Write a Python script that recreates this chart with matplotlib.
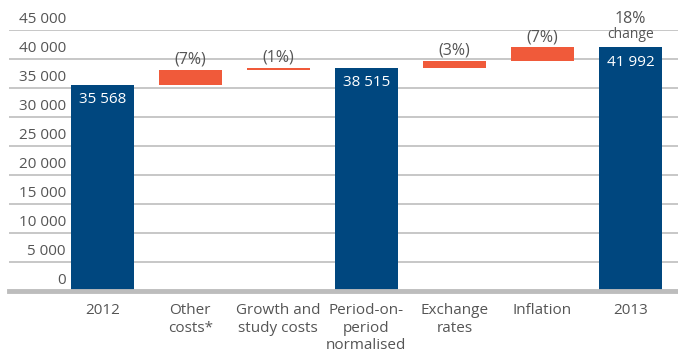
import matplotlib.pyplot as plt
import numpy as np

plt.rcParams['font.family'] = ['Open Sans', 'DejaVu Sans']

# cost bridge 2012 -> 2013
categories = ["2012", "Other\ncosts*", "Growth and\nstudy costs",
              "Period-on-\nperiod\nnormalised", "Exchange\nrates", "Inflation", "2013"]
start_2012 = 35568
normalised = 38515
end_2013 = 41992
other_costs = 2530
growth_study = 417
exchange_rates = 1130
inflation = 2347
pct_labels = ["(7%)", "(1%)", "(3%)", "(7%)"]
yticks = [0, 5000, 10000, 15000, 20000, 25000, 30000, 35000, 40000, 45000]

BLUE = "#00477f"
ORANGE = "#f05a3a"
GRID = "#bdbdbd"
TEXT = "#555555"

def fmt(v):
    return f"{v:,}".replace(",", " ")

# heights and bottoms of the waterfall
heights = [start_2012, other_costs, growth_study, normalised,
           exchange_rates, inflation, end_2013]
bottoms = [0,
           start_2012,
           start_2012 + other_costs,
           0,
           normalised,
           normalised + exchange_rates,
           0]
is_total = [True, False, False, True, False, False, True]
colors = [BLUE if t else ORANGE for t in is_total]

fig = plt.figure(figsize=(6.78, 3.52), dpi=100)
ax = fig.add_axes([9/678, (352-291)/352, 1 - 9/678, (291-30)/352])

x = np.arange(len(categories))
ax.bar(x, heights, bottom=bottoms, width=0.71, color=colors, zorder=2)

ax.set_xlim(-1.06, 6.54)
ax.set_ylim(0, 45000)

for t in yticks:
    if t == 0:
        ax.axhline(t, color=GRID, lw=3.5, zorder=3, clip_on=False)
    else:
        ax.axhline(t, color=GRID, lw=1.2, zorder=0)
    ax.annotate(fmt(t), xy=(-0.415, t), xytext=(0, 2.5), textcoords="offset points",
                ha="right", va="bottom", fontsize=11, color=TEXT)

# value labels inside the totals, percentages above the steps
k = 0
for i in range(len(categories)):
    top = bottoms[i] + heights[i]
    if is_total[i]:
        ax.annotate(fmt(heights[i]), xy=(x[i], top), xytext=(0, -11),
                    textcoords="offset points", ha="center", va="center",
                    fontsize=11, color="white", zorder=4)
    else:
        ax.annotate(pct_labels[k], xy=(x[i], top), xytext=(0, 1.5),
                    textcoords="offset points", ha="center", va="bottom",
                    fontsize=11.5, color=TEXT, zorder=4)
        k += 1

ax.annotate("18%", xy=(x[-1], end_2013), xytext=(0, 15),
            textcoords="offset points", ha="center", va="bottom",
            fontsize=11.5, color=TEXT)
ax.annotate("change", xy=(x[-1], end_2013), xytext=(0, 4),
            textcoords="offset points", ha="center", va="bottom",
            fontsize=10, color=TEXT)

ax.set_xticks(x)
ax.set_xticklabels(categories, fontsize=11, color=TEXT, linespacing=1.2)
ax.tick_params(axis="x", length=0, pad=9)
ax.set_yticks([])
for s in ax.spines.values():
    s.set_visible(False)

fig.savefig("out.png", dpi=100)
